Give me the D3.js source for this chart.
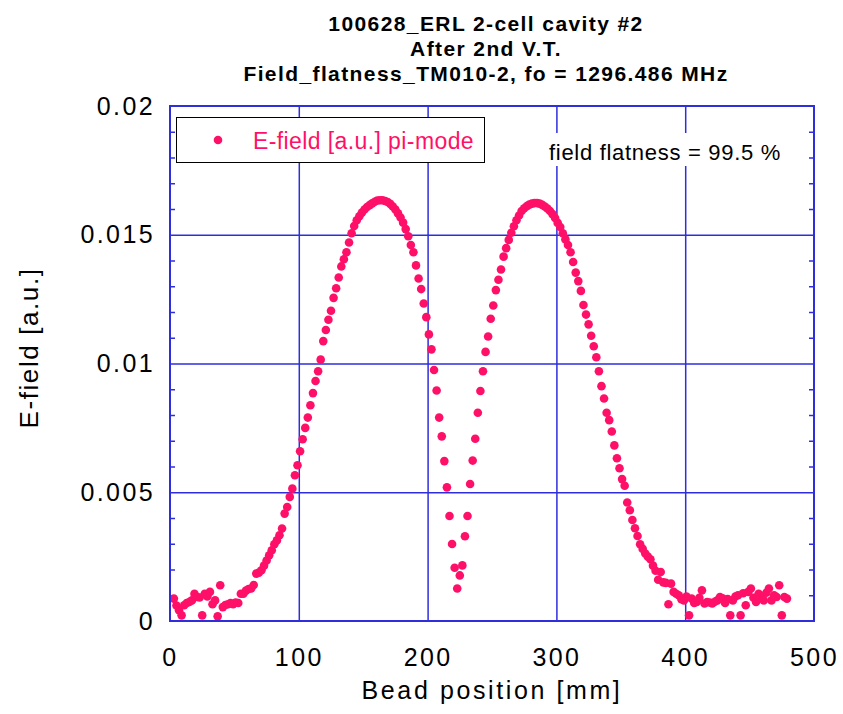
<!DOCTYPE html>
<html>
<head>
<meta charset="utf-8">
<script src="https://cdn.jsdelivr.net/npm/d3@7"></script>
<style>
  body { margin: 0; background: #fff; }
  svg { display: block; font-family: "Liberation Sans", Arial, sans-serif; }
</style>
</head>
<body>
<svg id="chart" width="843" height="714"></svg>
<script>
// chart text
const titleLines = [
  "100628_ERL 2-cell cavity #2",
  "After 2nd V.T.",
  "Field_flatness_TM010-2, fo = 1296.486 MHz"
];
const xTicks = [0, 100, 200, 300, 400, 500];
const xTickLabels = ["0", "100", "200", "300", "400", "500"];
const yTicks = [0, 0.005, 0.01, 0.015, 0.02];
const yTickLabels = ["0", "0.005", "0.01", "0.015", "0.02"];
const yMinorTicks = [0.001, 0.002, 0.003, 0.004, 0.006, 0.007, 0.008, 0.009,
  0.011, 0.012, 0.013, 0.014, 0.016, 0.017, 0.018, 0.019];
const legendLabel = "E-field [a.u.] pi-mode";
const flatnessNote = "field flatness = 99.5 %";

// bead positions [mm]
const beadPos = [
  3, 5, 7, 9, 11, 13, 15, 17, 19, 21, 23, 25, 27, 29, 31, 33, 35, 37, 39, 41,
  43, 45, 47, 49, 51, 53, 55, 57, 59, 61, 63, 65, 67, 69, 71, 73, 75, 77, 79, 81,
  83, 85, 87, 89, 91, 93, 95, 97, 99, 101, 103, 105, 107, 109, 111, 113, 115, 117, 119, 121,
  123, 125, 127, 129, 131, 133, 135, 137, 139, 141, 143, 145, 147, 149, 151, 153, 155, 157, 159, 161,
  163, 165, 167, 169, 171, 173, 175, 177, 179, 181, 183, 185, 187, 189, 191, 193, 195, 197, 199, 201,
  203, 205, 207, 209, 211, 213, 215, 217, 219, 221, 223, 225, 227, 229, 231, 233, 235, 237, 239, 241,
  243, 245, 247, 249, 251, 253, 255, 257, 259, 261, 263, 265, 267, 269, 271, 273, 275, 277, 279, 281,
  283, 285, 287, 289, 291, 293, 295, 297, 299, 301, 303, 305, 307, 309, 311, 313, 315, 317, 319, 321,
  323, 325, 327, 329, 331, 333, 335, 337, 339, 341, 343, 345, 347, 349, 351, 353, 355, 357, 359, 361,
  363, 365, 367, 369, 371, 373, 375, 377, 379, 381, 383, 385, 387, 389, 391, 393, 395, 397, 399, 401,
  403, 405, 407, 409, 411, 413, 415, 417, 419, 421, 423, 425, 427, 429, 431, 433, 435, 437, 439, 441,
  443, 445, 447, 449, 451, 453, 455, 457, 459, 461, 463, 465, 467, 469, 471, 473, 475, 477, 479
];

// E-field [a.u.], pi-mode
const eField = [
  0.00087, 0.00060, 0.00042, 0.00022, 0.00061, 0.00070, 0.00074, 0.00080, 0.00106, 0.00093,
  0.00091, 0.00022, 0.00106, 0.00095, 0.00113, 0.00065, 0.00080, 0.00018, 0.00139, 0.00054,
  0.00062, 0.00065, 0.00070, 0.00065, 0.00072, 0.00070, 0.00106, 0.00106, 0.00118, 0.00124,
  0.00126, 0.00140, 0.00184, 0.00188, 0.00197, 0.00215, 0.00235, 0.00255, 0.00275, 0.00298,
  0.00313, 0.00333, 0.00359, 0.00417, 0.00443, 0.00482, 0.00514, 0.00566, 0.00605, 0.00659,
  0.00706, 0.00750, 0.00790, 0.00838, 0.00885, 0.00932, 0.00970, 0.01015, 0.01087, 0.01130,
  0.01170, 0.01205, 0.01255, 0.01292, 0.01334, 0.01377, 0.01405, 0.01432, 0.01470, 0.01506,
  0.01534, 0.01556, 0.01572, 0.01586, 0.01598, 0.01608, 0.01615, 0.01622, 0.01628, 0.01633,
  0.01634, 0.01634, 0.01631, 0.01627, 0.01620, 0.01610, 0.01598, 0.01583, 0.01567, 0.01547,
  0.01522, 0.01494, 0.01460, 0.01432, 0.01381, 0.01330, 0.01289, 0.01233, 0.01180, 0.01113,
  0.01055, 0.00975, 0.00895, 0.00790, 0.00717, 0.00621, 0.00519, 0.00408, 0.00299, 0.00207,
  0.00126, 0.00177, 0.00216, 0.00329, 0.00408, 0.00532, 0.00623, 0.00708, 0.00809, 0.00893,
  0.00970, 0.01045, 0.01105, 0.01174, 0.01225, 0.01285, 0.01325, 0.01365, 0.01415, 0.01448,
  0.01480, 0.01508, 0.01533, 0.01556, 0.01575, 0.01592, 0.01603, 0.01611, 0.01617, 0.01621,
  0.01623, 0.01623, 0.01621, 0.01616, 0.01610, 0.01602, 0.01592, 0.01580, 0.01565, 0.01546,
  0.01530, 0.01506, 0.01482, 0.01460, 0.01432, 0.01394, 0.01353, 0.01320, 0.01282, 0.01227,
  0.01190, 0.01152, 0.01108, 0.01067, 0.01024, 0.00970, 0.00912, 0.00864, 0.00809, 0.00780,
  0.00736, 0.00682, 0.00632, 0.00593, 0.00551, 0.00525, 0.00460, 0.00430, 0.00392, 0.00360,
  0.00330, 0.00298, 0.00280, 0.00262, 0.00250, 0.00240, 0.00215, 0.00195, 0.00160, 0.00190,
  0.00150, 0.00148, 0.00065, 0.00145, 0.00113, 0.00106, 0.00100, 0.00085, 0.00080, 0.00095,
  0.00022, 0.00087, 0.00070, 0.00074, 0.00090, 0.00119, 0.00068, 0.00074, 0.00072, 0.00068,
  0.00075, 0.00080, 0.00093, 0.00088, 0.00070, 0.00085, 0.00022, 0.00080, 0.00095, 0.00100,
  0.00022, 0.00108, 0.00061, 0.00113, 0.00126, 0.00090, 0.00074, 0.00106, 0.00095, 0.00080,
  0.00110, 0.00126, 0.00080, 0.00100, 0.00093, 0.00139, 0.00022, 0.00093, 0.00087
];

const data = beadPos.map((x, i) => ({ x: x, y: eField[i] }));

const blue = "#2e2edc";
const pink = "#ff1068";

const margin = { top: 106, right: 29, bottom: 93, left: 170 };
const width = 843 - margin.left - margin.right;
const height = 714 - margin.top - margin.bottom;

const svg = d3.select("#chart");

const xscale = d3.scaleLinear().domain([0, 500]).range([0, width]);
const yscale = d3.scaleLinear().domain([0, 0.02]).range([height, 0]);

const g = svg.append("g").attr("transform", `translate(${margin.left},${margin.top})`);

// title
svg.append("g")
  .selectAll("text")
  .data(titleLines)
  .join("text")
  .attr("x", 486)
  .attr("y", (d, i) => 31 + i * 25)
  .attr("text-anchor", "middle")
  .style("font-weight", "bold")
  .style("font-size", "21px")
  .style("letter-spacing", "1.4px")
  .text((d) => d);

// grid lines
g.append("g")
  .attr("class", "xgrid")
  .attr("transform", `translate(0,${height})`)
  .call(d3.axisBottom(xscale).tickValues(xTicks.slice(1, -1)).tickSize(-height).tickFormat(""))
  .call((a) => a.select(".domain").remove());

g.append("g")
  .attr("class", "ygrid")
  .call(d3.axisLeft(yscale).tickValues(yTicks.slice(1, -1)).tickSize(-width).tickFormat(""))
  .call((a) => a.select(".domain").remove());

g.selectAll(".xgrid line, .ygrid line").attr("stroke", blue).attr("stroke-width", 1.5);

// minor ticks inside left and right
g.append("g")
  .attr("class", "yminor")
  .call(d3.axisLeft(yscale).tickValues(yMinorTicks).tickSize(-5).tickFormat(""))
  .call((a) => a.select(".domain").remove());
g.append("g")
  .attr("class", "yminor")
  .attr("transform", `translate(${width},0)`)
  .call(d3.axisRight(yscale).tickValues(yMinorTicks).tickSize(-5).tickFormat(""))
  .call((a) => a.select(".domain").remove());
g.selectAll(".yminor line").attr("stroke", blue).attr("stroke-width", 1.5);

// tick labels
const xAxis = g.append("g")
  .attr("transform", `translate(0,${height})`)
  .call(d3.axisBottom(xscale).tickValues(xTicks).tickSize(0).tickPadding(27)
    .tickFormat((d, i) => xTickLabels[i]));
const yAxis = g.append("g")
  .call(d3.axisLeft(yscale).tickValues(yTicks).tickSize(0).tickPadding(15)
    .tickFormat((d, i) => yTickLabels[i]));
[xAxis, yAxis].forEach((a) => {
  a.select(".domain").remove();
  a.selectAll("text")
    .attr("fill", "#000")
    .style("font-family", "'Liberation Sans', Arial, sans-serif")
    .style("font-size", "25px")
    .style("letter-spacing", "2.4px");
});

// data points
g.append("g")
  .selectAll("circle")
  .data(data)
  .join("circle")
  .attr("cx", (d) => xscale(d.x))
  .attr("cy", (d) => yscale(d.y))
  .attr("r", 4.3)
  .attr("fill", pink);

// frame
g.append("rect")
  .attr("width", width)
  .attr("height", height)
  .attr("fill", "none")
  .attr("stroke", blue)
  .attr("stroke-width", 2);

// axis titles
svg.append("text")
  .attr("x", margin.left + width / 2)
  .attr("y", 699)
  .attr("text-anchor", "middle")
  .style("font-size", "25px")
  .style("letter-spacing", "2.6px")
  .text("Bead position [mm]");

svg.append("text")
  .attr("transform", "translate(38,348) rotate(-90)")
  .attr("text-anchor", "middle")
  .style("font-size", "26px")
  .style("letter-spacing", "1.6px")
  .text("E-field [a.u.]");

// legend
const legend = svg.append("g");
legend.append("rect")
  .attr("x", 176.5)
  .attr("y", 117.5)
  .attr("width", 308)
  .attr("height", 45)
  .attr("fill", "#fff")
  .attr("stroke", "#000")
  .attr("stroke-width", 1);
legend.append("circle")
  .attr("cx", 218)
  .attr("cy", 140)
  .attr("r", 4.3)
  .attr("fill", pink);
legend.append("text")
  .attr("x", 253)
  .attr("y", 149)
  .attr("fill", pink)
  .style("font-size", "23px")
  .style("letter-spacing", "0.4px")
  .text(legendLabel);

// flatness note
const note = svg.append("g");
note.append("rect")
  .attr("x", 545)
  .attr("y", 133)
  .attr("width", 243)
  .attr("height", 33)
  .attr("fill", "#fff");
note.append("text")
  .attr("x", 549)
  .attr("y", 160)
  .style("font-size", "22px")
  .style("letter-spacing", "0.7px")
  .text(flatnessNote);
</script>
</body>
</html>
